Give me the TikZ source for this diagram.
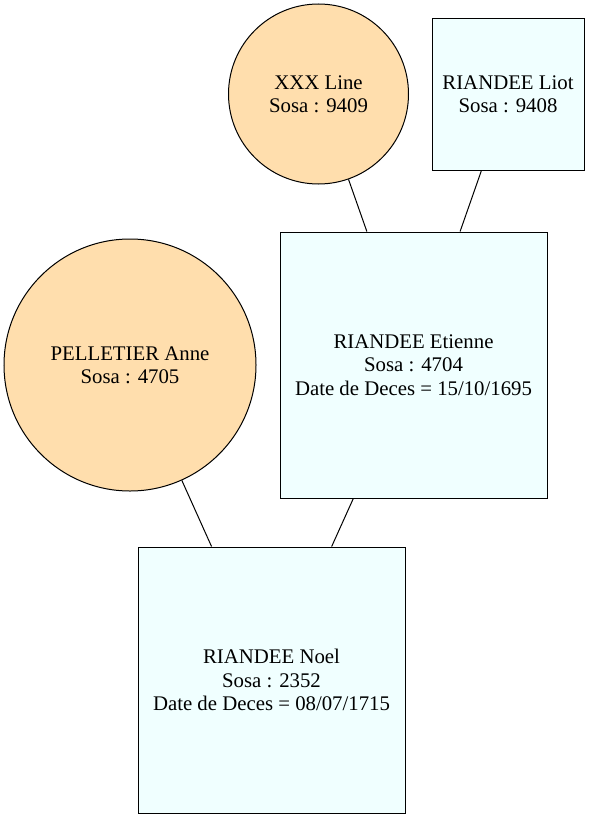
\documentclass[tikz,border=0pt]{standalone}
\usepackage{fontspec}
\setmainfont{Liberation Serif}
\definecolor{navajo}{HTML}{FFDEAD}
\definecolor{azurefill}{HTML}{F0FFFF}
\begin{document}
\begin{tikzpicture}[x=1pt,y=-1pt,
  person/.style={draw=black, line width=1pt, align=center, inner sep=0pt,
    font=\fontsize{20.8}{23.4}\selectfont},
  woman/.style={person, circle, fill=navajo},
  man/.style={person, rectangle, fill=azurefill},
  link/.style={draw=black, line width=1pt}]
\useasboundingbox (0,0) rectangle (589,819);
\node[woman, minimum size=180pt] (line) at (318.5,94) {XXX Line\\Sosa : 9409};
\node[man, minimum width=152pt, minimum height=152pt] (liot) at (508,94.5) {RIANDEE Liot\\Sosa : 9408};
\node[man, minimum width=267pt, minimum height=266pt] (etienne) at (413.5,365) {RIANDEE Etienne\\Sosa : 4704\\Date de Deces = 15/10/1695};
\node[woman, minimum size=252pt] (anne) at (130,365) {PELLETIER Anne\\Sosa : 4705};
\node[man, minimum width=267pt, minimum height=266pt] (noel) at (271.5,680) {RIANDEE Noel\\Sosa : 2352\\Date de Deces = 08/07/1715};
\draw[link] (line) -- (etienne);
\draw[link] (liot) -- (etienne);
\draw[link] (etienne) -- (noel);
\draw[link] (anne) -- (noel);
\end{tikzpicture}
\end{document}
